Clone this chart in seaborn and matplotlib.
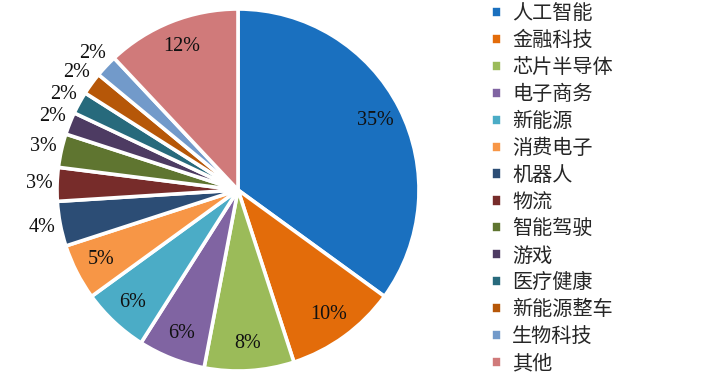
import numpy as np
import matplotlib
matplotlib.use("Agg")
import matplotlib.pyplot as plt
import seaborn as sns

categories = ["人工智能", "金融科技", "芯片半导体", "电子商务", "新能源", "消费电子", "机器人",
              "物流", "智能驾驶", "游戏", "医疗健康", "新能源整车", "生物科技", "其他"]
values = [35, 10, 8, 6, 6, 5, 4, 3, 3, 2, 2, 2, 2, 12]
colors = ["#1a70bf", "#e36c0a", "#9bbb59", "#8064a2", "#4bacc6", "#f79646", "#2c4d75",
          "#772c2a", "#5f7530", "#4d3b62", "#276a7c", "#b65708", "#729aca", "#d07a7a"]
inside = [True, True, True, True, True, True, False,
          False, False, False, False, False, False, True]

sns.set_theme(style="white")
plt.rcParams['font.family'] = ['Noto Sans CJK SC', 'DejaVu Sans']

fig = plt.figure(figsize=(7.2, 3.8), dpi=100)
ax = fig.add_axes([57/720, 9/380, 362/720, 362/380])

wedges, _ = ax.pie(values, colors=colors, startangle=90, counterclock=False,
                   wedgeprops=dict(edgecolor="white", linewidth=2.6), radius=1.0)
ax.set_xlim(-1, 1)
ax.set_ylim(-1, 1)
ax.set_aspect("equal")

for w, v, ins in zip(wedges, values, inside):
    ang = np.deg2rad((w.theta1 + w.theta2) / 2)
    d = 0.85 if ins else 1.1
    ax.text(d * np.cos(ang), d * np.sin(ang), f"{v}%", ha="center", va="center",
            fontsize=14.5, family="Liberation Serif", color="#111111")

fig.legend(wedges, categories, loc="upper left", bbox_to_anchor=(491/720, 1 - 3/380),
           frameon=False, fontsize=14.5, handlelength=0.55, handleheight=0.55,
           handletextpad=0.5, labelspacing=0.295, borderpad=0, borderaxespad=0)

fig.savefig("out.png", dpi=100)
